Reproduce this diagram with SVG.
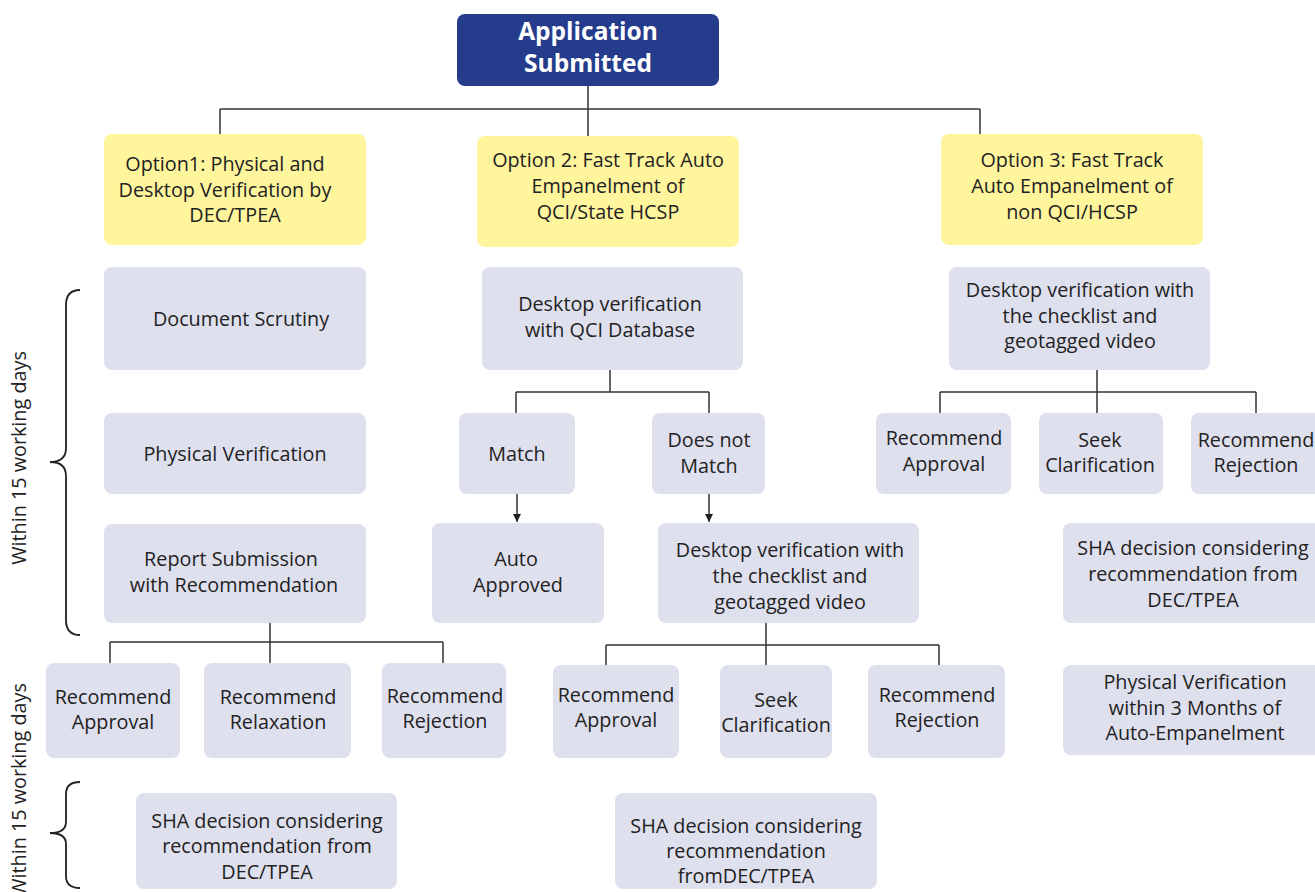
<svg xmlns="http://www.w3.org/2000/svg" width="1315" height="892" viewBox="0 0 1315 892">
<defs>
<marker id="ah" markerWidth="10" markerHeight="10" refX="8" refY="4" orient="auto" markerUnits="userSpaceOnUse">
<path d="M0,0 L8,4 L0,8 Z" fill="#222"/>
</marker>
<style>
.g{fill:#DFE0EE}
.y{fill:#FFF59D}
.b{fill:#253C8C}
text{font-family:"Open Sans","Noto Sans","Liberation Sans",sans-serif;font-size:19.8px;fill:#222;text-anchor:middle}
.tw{fill:#fff;font-weight:bold;font-size:24.5px}
.c{fill:none;stroke:#333;stroke-width:1.5}
.br{fill:none;stroke:#222;stroke-width:1.8}
</style>
</defs>
<rect width="1315" height="892" fill="#fff"/>

<g id="connectors">
<path class="c" d="M588,86 V109 M220,109 H980 M220,109 V134 M588,109 V136 M980,109 V134"/>
<path class="c" d="M610,370 V392 M516,392 H709 M516,392 V413 M709,392 V413"/>
<path class="c" d="M517,494 V522" marker-end="url(#ah)"/>
<path class="c" d="M709,494 V522" marker-end="url(#ah)"/>
<path class="c" d="M1097,370 V392 M940,392 H1256 M940,392 V413 M1097,392 V413 M1256,392 V413"/>
<path class="c" d="M270,623 V642 M110,642 H443 M110,642 V663 M270,642 V663 M443,642 V663"/>
<path class="c" d="M766,623 V645 M606,645 H939 M606,645 V665 M766,645 V665 M939,645 V665"/>
</g>

<g id="brace1">
<path class="br" d="M80,290 Q66,290 66,305 V448 Q66,462 50,462 Q66,462 66,476 V620 Q66,635 80,635"/>
<text transform="translate(26,458) rotate(-90)">Within 15 working days</text>
</g>
<g id="brace2">
<path class="br" d="M80,782 Q66,782 66,794 V822 Q66,833 50,833 Q66,833 66,844 V876 Q66,888 80,888"/>
<text transform="translate(26,790) rotate(-90)">Within 15 working days</text>
</g>

<g id="app">
<rect class="b" x="457" y="14" width="262" height="72" rx="8"/>
<text class="tw" x="588" y="40">Application</text>
<text class="tw" x="588" y="72">Submitted</text>
</g>

<g id="opt1">
<rect class="y" x="104" y="134" width="262" height="111" rx="8"/>
<text x="225" y="171">Option1: Physical and</text>
<text x="225" y="197">Desktop Verification by</text>
<text x="235" y="222">DEC/TPEA</text>
</g>
<g id="opt2">
<rect class="y" x="477" y="136" width="262" height="111" rx="8"/>
<text x="608" y="167">Option 2: Fast Track Auto</text>
<text x="608" y="193">Empanelment of</text>
<text x="608" y="219">QCI/State HCSP</text>
</g>
<g id="opt3">
<rect class="y" x="941" y="134" width="262" height="111" rx="8"/>
<text x="1072" y="167">Option 3: Fast Track</text>
<text x="1072" y="193">Auto Empanelment of</text>
<text x="1072" y="219">non QCI/HCSP</text>
</g>

<g id="docscrutiny">
<rect class="g" x="104" y="267" width="262" height="103" rx="8"/>
<text x="241" y="326">Document Scrutiny</text>
</g>
<g id="physver">
<rect class="g" x="104" y="413" width="262" height="81" rx="8"/>
<text x="235" y="461">Physical Verification</text>
</g>
<g id="report">
<rect class="g" x="104" y="524" width="262" height="99" rx="8"/>
<text x="231" y="566">Report Submission</text>
<text x="234" y="592">with Recommendation</text>
</g>

<g id="qcidesk">
<rect class="g" x="482" y="267" width="261" height="103" rx="8"/>
<text x="610" y="311">Desktop verification</text>
<text x="610" y="337">with QCI Database</text>
</g>
<g id="match">
<rect class="g" x="459" y="413" width="116" height="81" rx="8"/>
<text x="517" y="461">Match</text>
</g>
<g id="nomatch">
<rect class="g" x="652" y="413" width="113" height="81" rx="8"/>
<text x="709" y="447">Does not</text>
<text x="709" y="473">Match</text>
</g>
<g id="autoapproved">
<rect class="g" x="432" y="523" width="172" height="100" rx="8"/>
<text x="516" y="566">Auto</text>
<text x="518" y="592">Approved</text>
</g>
<g id="desk2">
<rect class="g" x="658" y="523" width="261" height="100" rx="8"/>
<text x="790" y="557">Desktop verification with</text>
<text x="790" y="583">the checklist and</text>
<text x="790" y="609">geotagged video</text>
</g>

<g id="desk3">
<rect class="g" x="949" y="267" width="261" height="103" rx="8"/>
<text x="1080" y="297">Desktop verification with</text>
<text x="1080" y="323">the checklist and</text>
<text x="1080" y="348">geotagged video</text>
</g>
<g id="o3approve">
<rect class="g" x="876" y="413" width="135" height="81" rx="8"/>
<text x="944" y="445">Recommend</text>
<text x="944" y="471">Approval</text>
</g>
<g id="o3seek">
<rect class="g" x="1039" y="413" width="124" height="81" rx="8"/>
<text x="1100" y="447">Seek</text>
<text x="1100" y="472">Clarification</text>
</g>
<g id="o3reject">
<rect class="g" x="1191" y="413" width="134" height="81" rx="8"/>
<text x="1256" y="447">Recommend</text>
<text x="1256" y="472">Rejection</text>
</g>
<g id="o3sha">
<rect class="g" x="1063" y="523" width="262" height="100" rx="8"/>
<text x="1193" y="555">SHA decision considering</text>
<text x="1193" y="581">recommendation from</text>
<text x="1193" y="607">DEC/TPEA</text>
</g>
<g id="o3phys">
<rect class="g" x="1063" y="665" width="262" height="90" rx="8"/>
<text x="1195" y="689">Physical Verification</text>
<text x="1195" y="715">within 3 Months of</text>
<text x="1195" y="740">Auto-Empanelment</text>
</g>

<g id="o1approve">
<rect class="g" x="46" y="663" width="134" height="95" rx="8"/>
<text x="113" y="704">Recommend</text>
<text x="113" y="729">Approval</text>
</g>
<g id="o1relax">
<rect class="g" x="204" y="663" width="147" height="95" rx="8"/>
<text x="278" y="704">Recommend</text>
<text x="278" y="729">Relaxation</text>
</g>
<g id="o1reject">
<rect class="g" x="382" y="663" width="124" height="95" rx="8"/>
<text x="445" y="703">Recommend</text>
<text x="445" y="728">Rejection</text>
</g>

<g id="o2approve">
<rect class="g" x="553" y="665" width="126" height="93" rx="8"/>
<text x="616" y="702">Recommend</text>
<text x="616" y="727">Approval</text>
</g>
<g id="o2seek">
<rect class="g" x="720" y="665" width="112" height="93" rx="8"/>
<text x="776" y="707">Seek</text>
<text x="776" y="732">Clarification</text>
</g>
<g id="o2reject">
<rect class="g" x="868" y="665" width="137" height="93" rx="8"/>
<text x="937" y="702">Recommend</text>
<text x="937" y="727">Rejection</text>
</g>

<g id="o1sha">
<rect class="g" x="136" y="793" width="261" height="96" rx="8"/>
<text x="267" y="828">SHA decision considering</text>
<text x="267" y="853">recommendation from</text>
<text x="267" y="879">DEC/TPEA</text>
</g>
<g id="o2sha">
<rect class="g" x="615" y="793" width="262" height="96" rx="8"/>
<text x="746" y="833">SHA decision considering</text>
<text x="746" y="858">recommendation</text>
<text x="746" y="883">fromDEC/TPEA</text>
</g>
</svg>
